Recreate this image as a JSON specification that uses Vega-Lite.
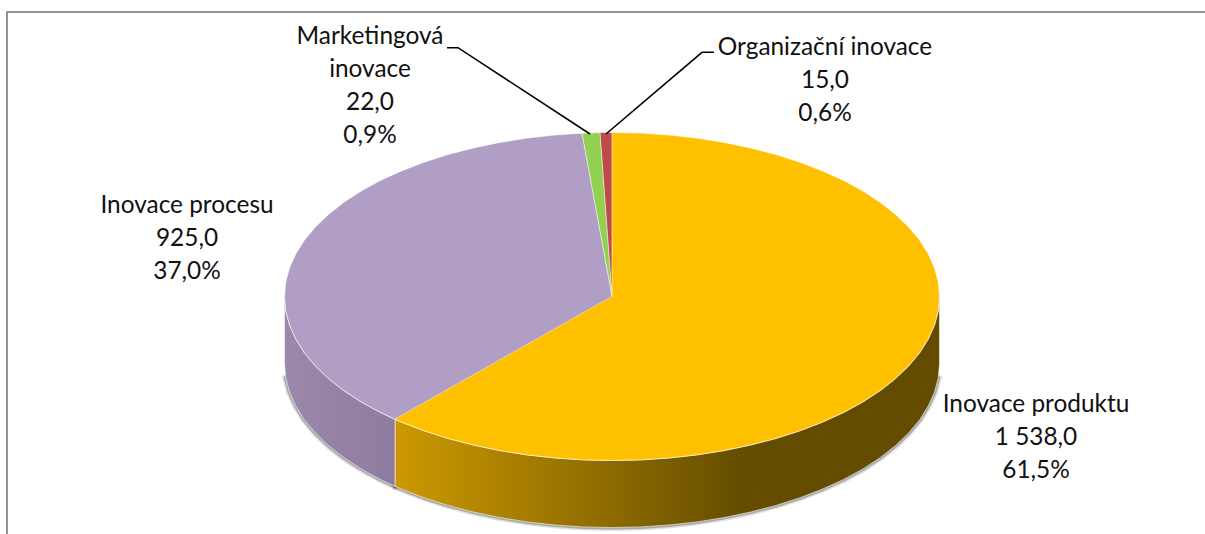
{"$schema":"https://vega.github.io/schema/vega-lite/v6.json","width":1205,"height":534,"autosize":{"type":"none"},"padding":0,"background":"white","view":{"stroke":null},
"datasets":{
"labels":[{"name":"Inovace produktu","value":1538,"share":61.5,"label":"Inovace produktu\n1 538,0\n61,5%","x":424,"y":-108},{"name":"Inovace procesu","value":925,"share":37,"label":"Inovace procesu\n925,0\n37,0%","x":-425,"y":91},{"name":"Marketingová inovace","value":22,"share":0.9,"label":"Marketingová\ninovace\n22,0\n0,9%","x":-242,"y":260},{"name":"Organizační inovace","value":15,"share":0.6,"label":"Organizační inovace\n15,0\n0,6%","x":213,"y":249}],
"frame":[{"o":1,"x":-605,"y":-237.5},{"o":2,"x":-605,"y":284.5},{"o":3,"x":593,"y":284.5}],
"leaders":[{"s":"m","o":1,"x":-165,"y":248.8},{"s":"m","o":2,"x":-154,"y":248.8},{"s":"m","o":3,"x":-22,"y":162.5},{"s":"r","o":1,"x":102,"y":244.2},{"s":"r","o":2,"x":90,"y":244.2},{"s":"r","o":3,"x":-6,"y":162.5}],
"rim":[{"s":"Y","o":1,"x":327.5,"y":0,"y2":-67},{"s":"Y","o":2,"x":326.3,"y":-14.3,"y2":-81.3},{"s":"Y","o":3,"x":322.5,"y":-28.5,"y2":-95.5},{"s":"Y","o":4,"x":316.3,"y":-42.4,"y2":-109.4},{"s":"Y","o":5,"x":307.8,"y":-56.1,"y2":-123.1},{"s":"Y","o":6,"x":296.8,"y":-69.3,"y2":-136.3},{"s":"Y","o":7,"x":283.6,"y":-82,"y2":-149},{"s":"Y","o":8,"x":268.3,"y":-94.1,"y2":-161.1},{"s":"Y","o":9,"x":250.9,"y":-105.4,"y2":-172.4},{"s":"Y","o":10,"x":231.6,"y":-116,"y2":-183},{"s":"Y","o":11,"x":210.5,"y":-125.6,"y2":-192.6},{"s":"Y","o":12,"x":187.9,"y":-134.3,"y2":-201.3},{"s":"Y","o":13,"x":163.8,"y":-142,"y2":-209},{"s":"Y","o":14,"x":138.4,"y":-148.6,"y2":-215.6},{"s":"Y","o":15,"x":112,"y":-154.1,"y2":-221.1},{"s":"Y","o":16,"x":84.8,"y":-158.4,"y2":-225.4},{"s":"Y","o":17,"x":56.9,"y":-161.5,"y2":-228.5},{"s":"Y","o":18,"x":28.6,"y":-163.4,"y2":-230.4},{"s":"Y","o":19,"x":0,"y":-164,"y2":-231},{"s":"Y","o":20,"x":-28.6,"y":-163.4,"y2":-230.4},{"s":"Y","o":21,"x":-56.9,"y":-161.5,"y2":-228.5},{"s":"Y","o":22,"x":-84.8,"y":-158.4,"y2":-225.4},{"s":"Y","o":23,"x":-112,"y":-154.1,"y2":-221.1},{"s":"Y","o":24,"x":-138.4,"y":-148.6,"y2":-215.6},{"s":"Y","o":25,"x":-163.8,"y":-142,"y2":-209},{"s":"Y","o":26,"x":-187.9,"y":-134.3,"y2":-201.3},{"s":"Y","o":27,"x":-210.5,"y":-125.6,"y2":-192.6},{"s":"Y","o":28,"x":-217,"y":-122.8,"y2":-189.8},
{"s":"P","o":29,"x":-217,"y":-122.8,"y2":-189.8},{"s":"P","o":30,"x":-231.6,"y":-116,"y2":-183},{"s":"P","o":31,"x":-250.9,"y":-105.4,"y2":-172.4},{"s":"P","o":32,"x":-268.3,"y":-94.1,"y2":-161.1},{"s":"P","o":33,"x":-283.6,"y":-82,"y2":-149},{"s":"P","o":34,"x":-296.8,"y":-69.3,"y2":-136.3},{"s":"P","o":35,"x":-307.8,"y":-56.1,"y2":-123.1},{"s":"P","o":36,"x":-316.3,"y":-42.4,"y2":-109.4},{"s":"P","o":37,"x":-322.5,"y":-28.5,"y2":-95.5},{"s":"P","o":38,"x":-326.3,"y":-14.3,"y2":-81.3},{"s":"P","o":39,"x":-327.5,"y":0,"y2":-67}],
"face":[{"s":"Y","o":0,"x":0,"y":0},{"s":"Y","o":1,"x":0,"y":164},{"s":"Y","o":2,"x":28.6,"y":163.4},{"s":"Y","o":3,"x":56.9,"y":161.5},{"s":"Y","o":4,"x":84.8,"y":158.4},{"s":"Y","o":5,"x":112,"y":154.1},{"s":"Y","o":6,"x":138.4,"y":148.6},{"s":"Y","o":7,"x":163.8,"y":142},{"s":"Y","o":8,"x":187.9,"y":134.3},{"s":"Y","o":9,"x":210.5,"y":125.6},{"s":"Y","o":10,"x":231.6,"y":116},{"s":"Y","o":11,"x":250.9,"y":105.4},{"s":"Y","o":12,"x":268.3,"y":94.1},{"s":"Y","o":13,"x":283.6,"y":82},{"s":"Y","o":14,"x":296.8,"y":69.3},{"s":"Y","o":15,"x":307.8,"y":56.1},{"s":"Y","o":16,"x":316.3,"y":42.4},{"s":"Y","o":17,"x":322.5,"y":28.5},{"s":"Y","o":18,"x":326.3,"y":14.3},{"s":"Y","o":19,"x":327.5,"y":0},{"s":"Y","o":20,"x":326.3,"y":-14.3},{"s":"Y","o":21,"x":322.5,"y":-28.5},{"s":"Y","o":22,"x":316.3,"y":-42.4},{"s":"Y","o":23,"x":307.8,"y":-56.1},{"s":"Y","o":24,"x":296.8,"y":-69.3},{"s":"Y","o":25,"x":283.6,"y":-82},{"s":"Y","o":26,"x":268.3,"y":-94.1},{"s":"Y","o":27,"x":250.9,"y":-105.4},{"s":"Y","o":28,"x":231.6,"y":-116},{"s":"Y","o":29,"x":210.5,"y":-125.6},{"s":"Y","o":30,"x":187.9,"y":-134.3},{"s":"Y","o":31,"x":163.8,"y":-142},{"s":"Y","o":32,"x":138.4,"y":-148.6},{"s":"Y","o":33,"x":112,"y":-154.1},{"s":"Y","o":34,"x":84.8,"y":-158.4},{"s":"Y","o":35,"x":56.9,"y":-161.5},{"s":"Y","o":36,"x":28.6,"y":-163.4},{"s":"Y","o":37,"x":0,"y":-164},{"s":"Y","o":38,"x":-28.6,"y":-163.4},{"s":"Y","o":39,"x":-56.9,"y":-161.5},{"s":"Y","o":40,"x":-84.8,"y":-158.4},{"s":"Y","o":41,"x":-112,"y":-154.1},{"s":"Y","o":42,"x":-138.4,"y":-148.6},{"s":"Y","o":43,"x":-163.8,"y":-142},{"s":"Y","o":44,"x":-187.9,"y":-134.3},{"s":"Y","o":45,"x":-210.5,"y":-125.6},{"s":"Y","o":46,"x":-217,"y":-122.8},
{"s":"P","o":0,"x":0,"y":0},{"s":"P","o":1,"x":-217,"y":-122.8},{"s":"P","o":2,"x":-231.6,"y":-116},{"s":"P","o":3,"x":-250.9,"y":-105.4},{"s":"P","o":4,"x":-268.3,"y":-94.1},{"s":"P","o":5,"x":-283.6,"y":-82},{"s":"P","o":6,"x":-296.8,"y":-69.3},{"s":"P","o":7,"x":-307.8,"y":-56.1},{"s":"P","o":8,"x":-316.3,"y":-42.4},{"s":"P","o":9,"x":-322.5,"y":-28.5},{"s":"P","o":10,"x":-326.3,"y":-14.3},{"s":"P","o":11,"x":-327.5,"y":0},{"s":"P","o":12,"x":-326.3,"y":14.3},{"s":"P","o":13,"x":-322.5,"y":28.5},{"s":"P","o":14,"x":-316.3,"y":42.4},{"s":"P","o":15,"x":-307.8,"y":56.1},{"s":"P","o":16,"x":-296.8,"y":69.3},{"s":"P","o":17,"x":-283.6,"y":82},{"s":"P","o":18,"x":-268.3,"y":94.1},{"s":"P","o":19,"x":-250.9,"y":105.4},{"s":"P","o":20,"x":-231.6,"y":116},{"s":"P","o":21,"x":-210.5,"y":125.6},{"s":"P","o":22,"x":-187.9,"y":134.3},{"s":"P","o":23,"x":-163.8,"y":142},{"s":"P","o":24,"x":-138.4,"y":148.6},{"s":"P","o":25,"x":-112,"y":154.1},{"s":"P","o":26,"x":-84.8,"y":158.4},{"s":"P","o":27,"x":-56.9,"y":161.5},{"s":"P","o":28,"x":-30,"y":163.3},
{"s":"G","o":0,"x":0,"y":0},{"s":"G","o":1,"x":-30,"y":163.3},{"s":"G","o":2,"x":-12,"y":163.9},
{"s":"R","o":0,"x":0,"y":0},{"s":"R","o":1,"x":-12,"y":163.9},{"s":"R","o":2,"x":0,"y":164}]
},
"encoding":{"x":{"field":"x","type":"quantitative","scale":{"domain":[-612,593],"nice":false,"zero":false},"axis":null},"y":{"field":"y","type":"quantitative","scale":{"domain":[-237.5,296.5],"nice":false,"zero":false},"axis":null}},
"layer":[
{"data":{"name":"frame"},"mark":{"type":"line","stroke":"#929292","strokeWidth":2,"clip":true},"encoding":{"order":{"field":"o"}}},
{"data":{"name":"rim"},"transform":[{"filter":{"field":"x","range":[-326.4,326.4]}}],"mark":{"type":"line","stroke":"#000000","strokeOpacity":0.12,"strokeWidth":7,"strokeCap":"round"},"encoding":{"y":{"field":"y2","type":"quantitative"},"detail":{"field":"s"},"order":{"field":"o"}}},
{"data":{"name":"rim"},"transform":[{"filter":{"field":"x","range":[-326.4,326.4]}}],"mark":{"type":"line","stroke":"#000000","strokeOpacity":0.25,"strokeWidth":4,"strokeCap":"round"},"encoding":{"y":{"field":"y2","type":"quantitative"},"detail":{"field":"s"},"order":{"field":"o"}}},
{"data":{"name":"rim"},"transform":[{"filter":"datum.s=='Y'"}],"mark":{"type":"area","orient":"vertical","stroke":"#ffffff","strokeOpacity":0.55,"strokeWidth":1,"color":{"gradient":"linear","x1":0,"x2":1,"y1":0,"y2":0,"stops":[{"offset":0,"color":"#CC9900"},{"offset":0.65,"color":"#634C00"},{"offset":1,"color":"#634C00"}]}},"encoding":{"y2":{"field":"y2"}}},
{"data":{"name":"rim"},"transform":[{"filter":"datum.s=='P'"}],"mark":{"type":"area","orient":"vertical","stroke":"#ffffff","strokeOpacity":0.55,"strokeWidth":1,"color":{"gradient":"linear","x1":0,"x2":1,"y1":0,"y2":0,"stops":[{"offset":0,"color":"#9B88AA"},{"offset":1,"color":"#8E7C9E"}]}},"encoding":{"y2":{"field":"y2"}}},
{"data":{"name":"face"},"transform":[{"filter":"datum.s=='P'"}],"mark":{"type":"line","fill":"#B09EC4","stroke":"#ffffff","strokeOpacity":0.6,"strokeWidth":1},"encoding":{"order":{"field":"o"}}},
{"data":{"name":"face"},"transform":[{"filter":"datum.s=='G'"}],"mark":{"type":"line","fill":"#92D050","stroke":"#ffffff","strokeOpacity":0.6,"strokeWidth":1},"encoding":{"order":{"field":"o"}}},
{"data":{"name":"face"},"transform":[{"filter":"datum.s=='R'"}],"mark":{"type":"line","fill":"#BE4B48","stroke":"#ffffff","strokeOpacity":0.6,"strokeWidth":1},"encoding":{"order":{"field":"o"}}},
{"data":{"name":"face"},"transform":[{"filter":"datum.s=='Y'"}],"mark":{"type":"line","fill":"#FFC000","stroke":"#ffffff","strokeOpacity":0.6,"strokeWidth":1},"encoding":{"order":{"field":"o"}}},
{"data":{"name":"leaders"},"mark":{"type":"line","stroke":"#000000","strokeWidth":1.6},"encoding":{"detail":{"field":"s"},"order":{"field":"o"}}},
{"data":{"name":"labels"},"mark":{"type":"text","font":"Lato","fontSize":24.4,"lineBreak":"\n","lineHeight":33,"align":"center","baseline":"middle","color":"#111111"},"encoding":{"text":{"field":"label"}}}
]}
